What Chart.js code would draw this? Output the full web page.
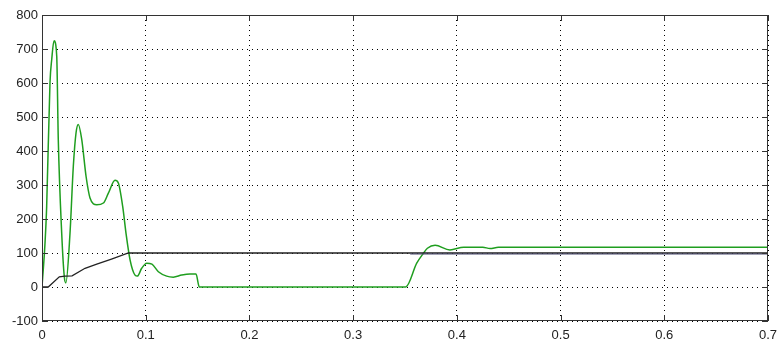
<!doctype html>
<html>
<head>
<meta charset="utf-8">
<title>Resposta</title>
<style>
  html, body { margin: 0; padding: 0; background: #fff; }
  #caixa { width: 779px; height: 342px; }
</style>
</head>
<body>
<div id="caixa"><canvas id="grafico" width="779" height="342"></canvas></div>
<script src="https://cdn.jsdelivr.net/npm/chart.js"></script>
<script>
// green response
const tVerde = [0, 0.0029, 0.0045, 0.0077, 0.0094, 0.0116, 0.0142, 0.0157, 0.019, 0.0215, 0.023, 0.027, 0.0302, 0.0328, 0.035, 0.0383, 0.0425, 0.0463, 0.0528, 0.0592, 0.064, 0.0704, 0.0736, 0.0778, 0.081, 0.0849, 0.0897, 0.092, 0.0961, 0.101, 0.106, 0.1122, 0.1202, 0.1266, 0.1347, 0.1427, 0.1485, 0.1517, 0.3507, 0.3613, 0.3677, 0.3716, 0.379, 0.3933, 0.4066, 0.425, 0.432, 0.44, 0.7];
const vVerde = [0, 129, 237, 601, 670, 724, 679, 434, 158, 30, 12, 158, 355, 453, 478, 434, 325, 262, 242, 247, 276, 314, 306, 237, 158, 80, 35, 32, 55, 70, 67, 45, 32, 29, 35, 38, 38, 0, 0, 70, 99, 114, 123, 109, 117, 117, 113, 117, 117];
// black reference
const tPreto = [0, 0.006, 0.0167, 0.022, 0.029, 0.0415, 0.0528, 0.067, 0.0833, 0.7];
const vPreto = [0, 0, 30, 32, 33, 55, 67, 82, 100, 100];
// navy line under the reference
const tAzul = [0.355, 0.7];
const vAzul = [97, 97];
// ticks
const xTicks = [0, 0.1, 0.2, 0.3, 0.4, 0.5, 0.6, 0.7];
const yTicks = [-100, 0, 100, 200, 300, 400, 500, 600, 700, 800];

const pares = (t, v) => t.map((x, i) => ({ x: x, y: v[i] }));

// frame + inward tick marks, MATLAB style
const moldura = {
  id: 'moldura',
  afterDraw(chart) {
    const { ctx, chartArea: a, scales } = chart;
    ctx.save();
    ctx.strokeStyle = '#333';
    ctx.lineWidth = 1;
    ctx.strokeRect(a.left + 0.5, a.top + 0.5, a.right - a.left - 1, a.bottom - a.top - 1);
    ctx.beginPath();
    xTicks.forEach(v => {
      const px = Math.round(scales.x.getPixelForValue(v)) + 0.5;
      ctx.moveTo(px, a.bottom); ctx.lineTo(px, a.bottom - 6);
      ctx.moveTo(px, a.top); ctx.lineTo(px, a.top + 6);
    });
    yTicks.forEach(v => {
      const py = Math.round(scales.y.getPixelForValue(v)) + 0.5;
      ctx.moveTo(a.left, py); ctx.lineTo(a.left + 6, py);
      ctx.moveTo(a.right, py); ctx.lineTo(a.right - 6, py);
    });
    ctx.stroke();
    ctx.restore();
  }
};

new Chart(document.querySelector('#grafico'), {
  type: 'line',
  data: {
    datasets: [
      { data: pares(tAzul, vAzul), borderColor: '#4a4a6e', borderWidth: 1.2, pointRadius: 0 },
      { data: pares(tPreto, vPreto), borderColor: '#222', borderWidth: 1.3, pointRadius: 0 },
      { data: pares(tVerde, vVerde), borderColor: '#1f9e1f', borderWidth: 1.5, pointRadius: 0, cubicInterpolationMode: 'monotone' }
    ]
  },
  options: {
    responsive: false,
    animation: false,
    layout: { padding: { top: 15, right: 11, left: 0, bottom: 0 } },
    plugins: { legend: { display: false }, tooltip: { enabled: false } },
    scales: {
      x: {
        type: 'linear', min: 0, max: 0.7,
        afterBuildTicks: s => { s.ticks = xTicks.map(v => ({ value: v })); },
        afterFit: s => { s.height = 21; s.paddingLeft = 0; s.paddingRight = 0; },
        ticks: { color: '#222', font: { family: 'Liberation Sans', size: 13 }, padding: 7, maxRotation: 0, autoSkip: false,
                 callback: v => String(v) },
        grid: { color: '#000', lineWidth: 1, drawTicks: false },
        border: { display: false, dash: [1, 4] }
      },
      y: {
        min: -100, max: 800,
        afterBuildTicks: s => { s.ticks = yTicks.map(v => ({ value: v })); },
        afterFit: s => { s.width = 42; s.paddingTop = 0; s.paddingBottom = 0; },
        ticks: { color: '#222', font: { family: 'Liberation Sans', size: 13 }, padding: 4, autoSkip: false },
        grid: { color: '#000', lineWidth: 1, drawTicks: false },
        border: { display: false, dash: [1, 4] }
      }
    }
  },
  plugins: [moldura]
});
</script>
</body>
</html>
